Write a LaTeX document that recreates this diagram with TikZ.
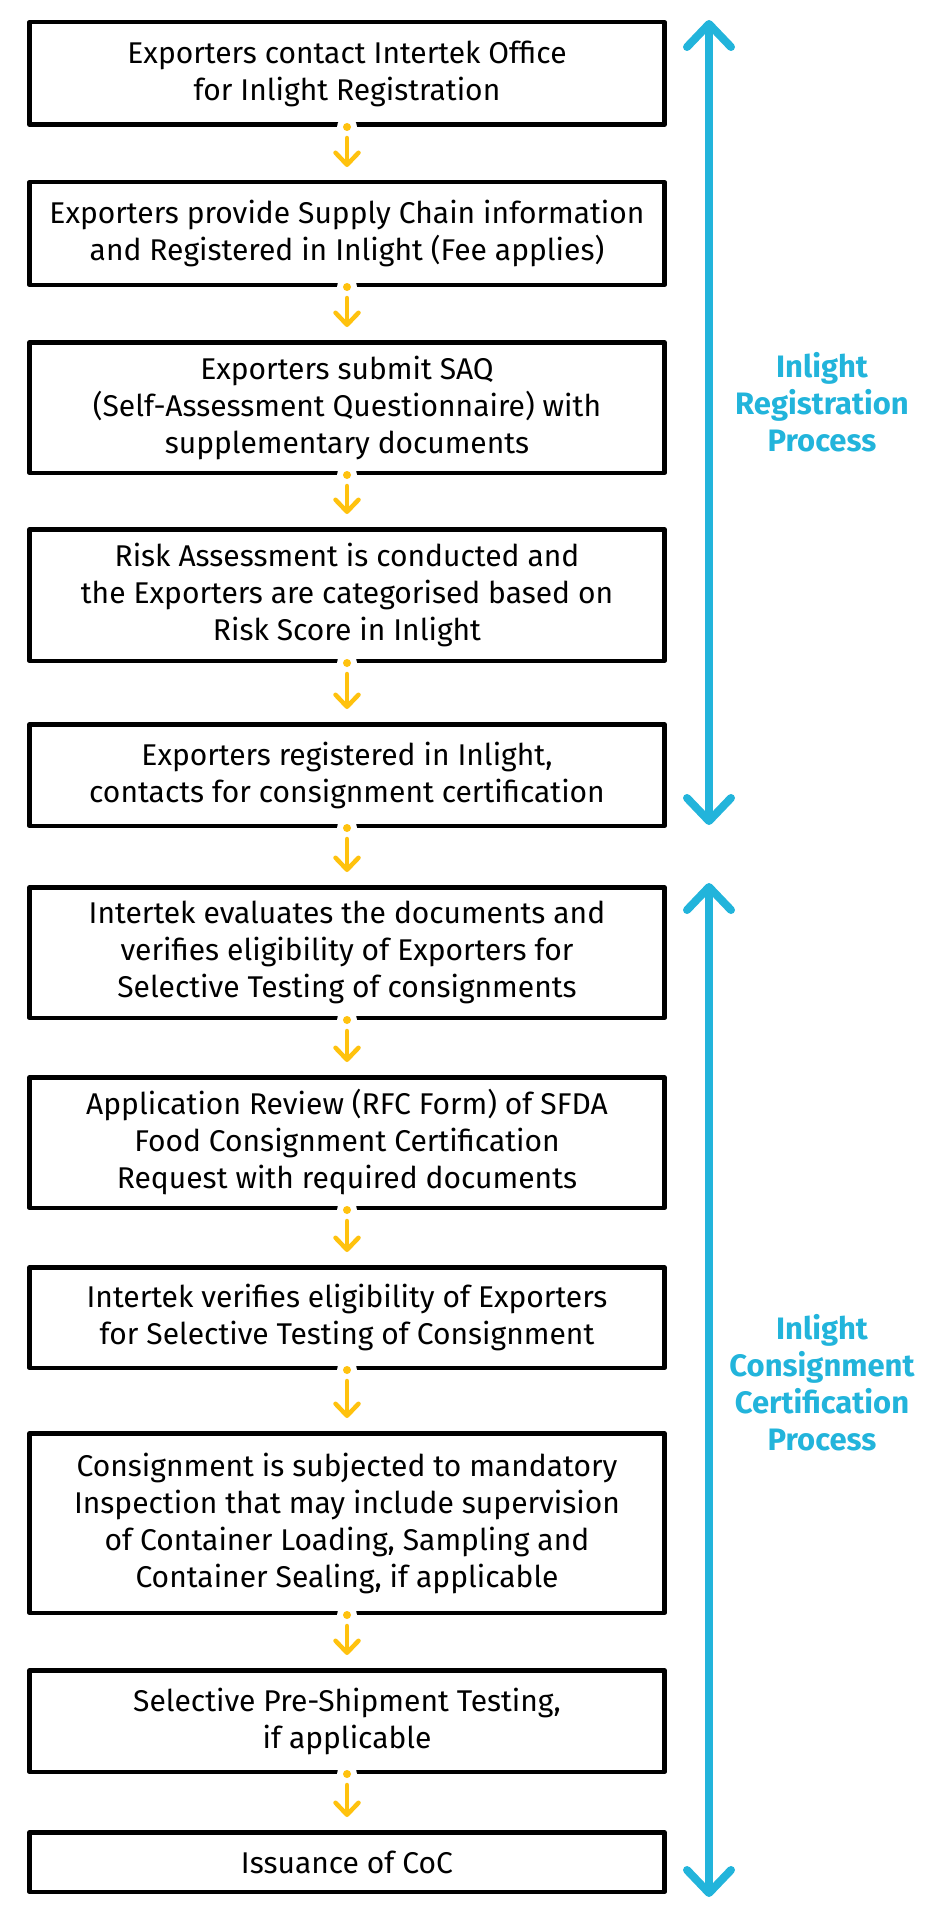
\documentclass[tikz,border=0pt]{standalone}
\usepackage{fontspec}
\setmainfont{Fira Sans}
\usetikzlibrary{arrows.meta}

\definecolor{itkblue}{HTML}{22B4DB}
\definecolor{itkyellow}{HTML}{FFC20E}

\newcommand{\boxfont}{\fontsize{30}{37}\selectfont}
\newcommand{\sidefont}{\fontsize{31}{37}\selectfont\bfseries}

\begin{document}
\begin{tikzpicture}[x=1pt, y=-1pt,
    stepbox/.style={draw, line width=4.5pt, line join=round, minimum width=635pt,
        align=center, inner sep=0pt, font=\boxfont},
    flowarrow/.style={itkyellow, line width=4.5pt, line cap=round,
        -{Straight Barb[length=12pt, width=23pt, round]}},
    spanarrow/.style={itkblue, line width=8pt, line cap=round,
        {Straight Barb[length=23pt, width=44pt, round]}-{Straight Barb[length=23pt, width=44pt, round]}},
    sidelabel/.style={itkblue, align=center, font=\sidefont}]
    \useasboundingbox (0,0) rectangle (940,1929);

    % Registration steps
    \node[stepbox, minimum height=102.5pt] (s1) at (347,73.5)
        {Exporters contact Intertek Office\\for Inlight Registration};
    \node[stepbox, minimum height=102.5pt] (s2) at (347,233.5)
        {Exporters provide Supply Chain information\\and Registered in Inlight (Fee applies)};
    \node[stepbox, minimum height=130.5pt] (s3) at (347,407.5)
        {Exporters submit SAQ\\(Self-Assessment Questionnaire) with\\supplementary documents};
    \node[stepbox, minimum height=131.5pt] (s4) at (347,595)
        {Risk Assessment is conducted and\\the Exporters are categorised based on\\Risk Score in Inlight};
    \node[stepbox, minimum height=101.5pt] (s5) at (347,775)
        {Exporters registered in Inlight,\\contacts for consignment certification};

    % Consignment steps
    \node[stepbox, minimum height=130.5pt] (s6) at (347,952.5)
        {Intertek evaluates the documents and\\verifies eligibility of Exporters for\\Selective Testing of consignments};
    \node[stepbox, minimum height=130.5pt] (s7) at (347,1142.5)
        {Application Review (RFC Form) of SFDA\\Food Consignment Certification\\Request with required documents};
    \node[stepbox, minimum height=100.5pt] (s8) at (347,1317.5)
        {Intertek verifies eligibility of Exporters\\for Selective Testing of Consignment};
    \node[stepbox, minimum height=179.5pt] (s9) at (347,1523)
        {Consignment is subjected to mandatory\\Inspection that may include supervision\\of Container Loading, Sampling and\\Container Sealing, if applicable};
    \node[stepbox, minimum height=101.5pt] (s10) at (347,1721)
        {Selective Pre-Shipment Testing,\\if applicable};
    \node[stepbox, minimum height=59.5pt] (s11) at (347,1862)
        {Issuance of CoC};

    % Yellow connectors
    \foreach \i [count=\j from 2] in {1,...,10} {
        \fill[white] (s\i.south) circle (10pt);
        \fill[itkyellow] (s\i.south) circle (4pt);
        \draw[flowarrow] ([yshift=-11pt]s\i.south) -- ([yshift=13pt]s\j.north);
    }

    % Process spans
    \coordinate (regtop) at (709,20);
    \coordinate (regbot) at (709,825);
    \coordinate (certop) at (709,883);
    \coordinate (cerbot) at (709,1897);
    \draw[spanarrow] (regbot) -- (regtop);
    \draw[spanarrow] (cerbot) -- (certop);

    \node[sidelabel] (reglabel) at (822,402) {Inlight\\Registration\\Process};
    \node[sidelabel] (cerlabel) at (822,1383) {Inlight\\Consignment\\Certification\\Process};
\end{tikzpicture}
\end{document}
